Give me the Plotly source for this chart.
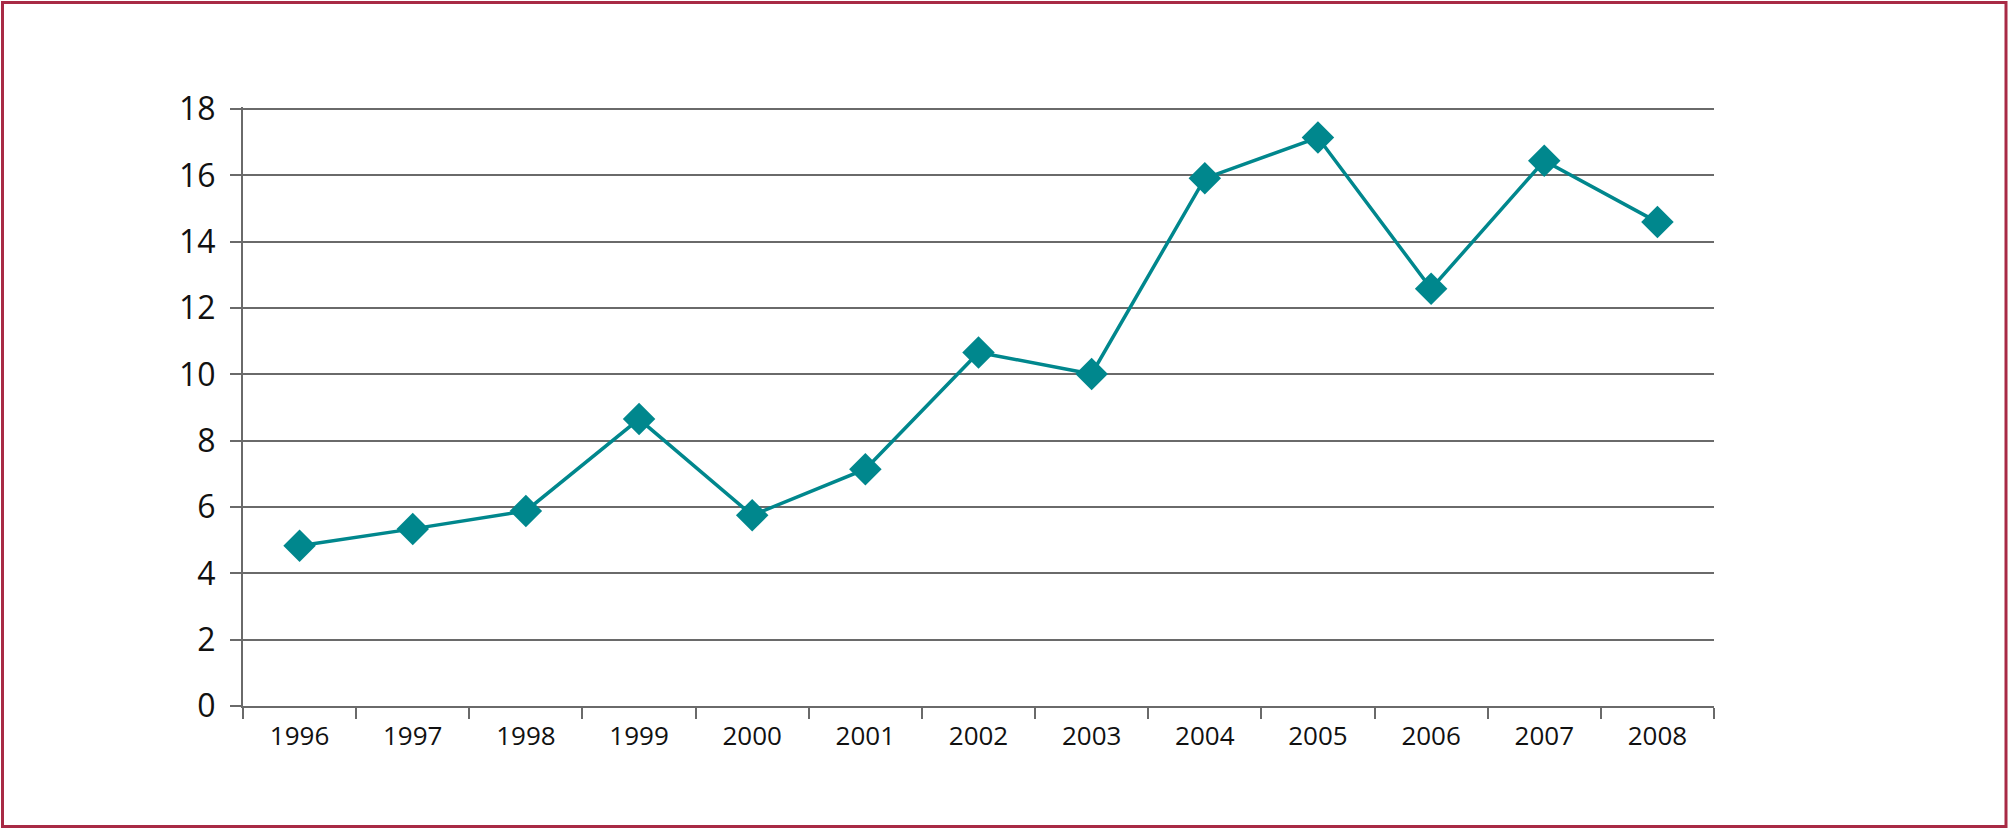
import plotly.graph_objects as go

years = ["1996", "1997", "1998", "1999", "2000", "2001", "2002",
         "2003", "2004", "2005", "2006", "2007", "2008"]
values = [4.83, 5.34, 5.88, 8.65, 5.75, 7.14, 10.66,
          10.01, 15.91, 17.14, 12.58, 16.44, 14.59]
y_ticks = [0, 2, 4, 6, 8, 10, 12, 14, 16, 18]

W, H = 2009, 829
Y_TOP = 18.06
ML, MR, MT, MB = 243, 295, 107, 123
PW, PH = W - ML - MR, H - MT - MB

teal = "#00878d"
grid = "#6a6a6a"

fig = go.Figure()
fig.add_trace(go.Scatter(
    x=years, y=values, mode="lines+markers",
    line=dict(color=teal, width=3.5),
    marker=dict(symbol="diamond", size=25, color=teal),
    showlegend=False, hoverinfo="x+y",
))

fig.update_layout(
    width=W, height=H,
    margin=dict(l=ML, r=MR, t=MT, b=MB),
    paper_bgcolor="white", plot_bgcolor="white",
    font=dict(family="Open Sans", color="#111111"),
    xaxis=dict(
        type="category", range=[-0.5, 12.5],
        showgrid=False, showline=True, linecolor=grid, linewidth=2,
        ticks="outside", ticklen=11, tickcolor=grid, tickwidth=2,
        tickson="boundaries", tickfont=dict(size=26),
        ticklabelstandoff=6,
    ),
    yaxis=dict(
        range=[0, Y_TOP], tickvals=y_ticks,
        showgrid=True, gridcolor=grid, gridwidth=2,
        showline=True, linecolor=grid, linewidth=2,
        ticks="outside", ticklen=11, tickcolor=grid, tickwidth=2,
        tickfont=dict(size=32), zeroline=False,
        ticklabelstandoff=8,
    ),
    shapes=[dict(
        type="rect", xref="paper", yref="paper",
        x0=(2.5 - ML) / PW, x1=(2006 - ML) / PW,
        y0=(H - MB - 826.5) / PH, y1=(H - MB - 2.5) / PH,
        line=dict(color="#a82a45", width=3), fillcolor="rgba(0,0,0,0)",
        layer="above",
    )],
)

fig.write_html(
    "out.html",
    config={"displayModeBar": False},
    post_script="document.body.style.margin='0';document.body.style.overflow='hidden';",
)
